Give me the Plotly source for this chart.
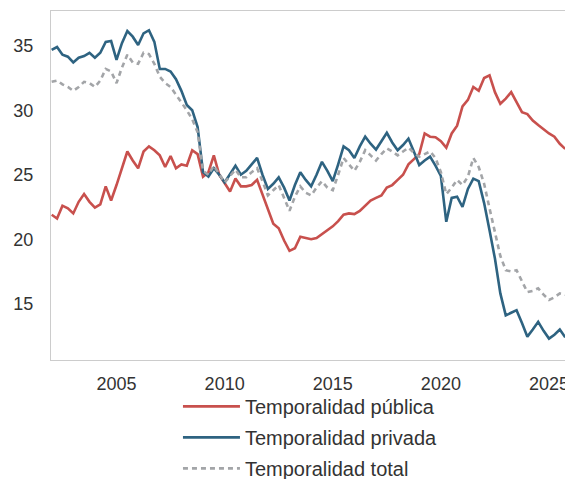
import plotly.graph_objects as go

# Quarterly periods 2002T1 .. 2025T4
years = [y for y in range(2002, 2026) for _ in range(4)]
quarters = [q for _ in range(2002, 2026) for q in range(1, 5)]
periods = [y + (q - 1) / 4 for y, q in zip(years, quarters)]

publica = [
    21.9, 21.6, 22.6, 22.4, 22.0, 22.9, 23.5, 22.9, 22.45, 22.7,
    24.1, 23.0, 24.2, 25.6, 26.8, 26.1, 25.5, 26.8, 27.2, 26.9,
    26.5, 25.6, 26.45, 25.5, 25.8, 25.7, 26.9, 26.6, 24.85, 25.2,
    26.5, 25.0, 24.3, 23.7, 24.7, 24.1, 24.1, 24.2, 24.6, 23.5,
    22.3, 21.2, 20.85, 19.9, 19.1, 19.3, 20.2, 20.1, 20.0, 20.1,
    20.4, 20.7, 21.0, 21.4, 21.9, 22.0, 21.95, 22.2, 22.6, 23.0,
    23.2, 23.4, 24.0, 24.2, 24.6, 25.0, 25.8, 26.2, 26.6, 28.2,
    27.95, 27.9, 27.6, 27.1, 28.2, 28.8, 30.3, 30.8, 31.8, 31.5,
    32.5, 32.7, 31.4, 30.5, 30.9, 31.4, 30.6, 29.85, 29.7, 29.2,
    28.85, 28.5, 28.2, 27.95, 27.4, 27.0,
]

privada = [
    34.67, 34.9, 34.3, 34.15, 33.7, 34.07, 34.2, 34.45, 34.07, 34.45,
    35.3, 35.36, 33.9, 35.2, 36.14, 35.7, 35.05, 35.96, 36.2, 35.3,
    33.2, 33.2, 33.0, 32.4, 31.5, 30.4, 30.0, 28.7, 25.2, 24.85,
    25.5, 25.0, 24.4, 25.0, 25.7, 25.0, 25.3, 25.8, 26.3, 25.0,
    23.9, 24.3, 24.8, 24.0, 23.0, 24.2, 25.2, 24.6, 24.1, 25.0,
    26.0, 25.3, 24.5, 25.8, 27.2, 26.9, 26.3, 27.2, 27.95, 27.4,
    26.95, 27.6, 28.25, 27.5, 26.9, 27.3, 27.8, 26.8, 25.75, 26.1,
    26.4, 25.7, 24.9, 21.35, 23.2, 23.3, 22.5, 23.9, 24.7, 24.5,
    22.8, 20.7, 18.5, 15.8, 14.1, 14.3, 14.5, 13.5, 12.45, 13.0,
    13.6, 12.9, 12.3, 12.6, 13.0, 12.4,
]

total = [
    32.2, 32.3, 32.0, 31.8, 31.5, 31.8, 32.2, 32.1, 31.8, 32.3,
    33.2, 33.0, 32.1, 33.3, 34.3, 33.7, 33.6, 34.45, 34.35, 33.6,
    32.6, 32.1, 31.8, 31.2, 30.6, 30.0, 29.3, 28.3, 25.3, 25.0,
    25.7, 25.1, 24.4, 24.9, 25.4, 24.8, 24.8, 25.2, 25.5, 24.5,
    23.4, 23.8, 24.2, 23.2, 22.2, 23.3, 24.1, 23.6, 23.4, 24.0,
    24.5, 24.0, 23.8, 25.0, 26.3, 25.8, 25.3, 26.0, 26.9, 26.5,
    26.1, 26.6, 27.05, 26.8, 26.5, 26.8, 27.1, 26.7, 26.4, 26.6,
    26.8, 26.3, 25.2, 23.5, 24.0, 24.6, 24.2, 24.85, 26.3, 25.6,
    24.3, 22.4, 20.6, 18.7, 17.6, 17.5, 17.6, 16.7, 15.9, 16.0,
    16.2, 15.7, 15.3, 15.5, 15.8, 15.7,
]

names = ["Temporalidad pública", "Temporalidad privada", "Temporalidad total"]
tick_years = [2005, 2010, 2015, 2020, 2025]
y_ticks = [15, 20, 25, 30, 35]

fig = go.Figure()
fig.add_trace(go.Scatter(x=periods, y=publica, mode="lines", name=names[0],
                         legendgroup="a",
                         line=dict(color="#C8504D", width=2.6)))
fig.add_trace(go.Scatter(x=periods, y=privada, mode="lines", name=names[1],
                         legendgroup="b",
                         line=dict(color="#2E6381", width=2.6)))
fig.add_trace(go.Scatter(x=periods, y=total, mode="lines", name=names[2],
                         legendgroup="c",
                         line=dict(color="#A3A5A8", width=2.6, dash="5px,4px")))

font = "Liberation Sans, Arial, sans-serif"
fig.update_layout(
    width=565, height=479,
    margin=dict(l=51, r=0, t=11, b=119, autoexpand=False),
    paper_bgcolor="white", plot_bgcolor="white",
    font=dict(family=font, color="#333333", size=18),
    showlegend=True,
    legend=dict(orientation="v", x=0.247, xanchor="left", y=-0.077, yanchor="top",
                font=dict(size=20, color="#333333"), tracegroupgap=2,
                itemwidth=57, bgcolor="rgba(0,0,0,0)"),
    xaxis=dict(range=[2001.97, 2025.74], tickmode="array", tickvals=tick_years,
               ticktext=[str(t) for t in tick_years], showgrid=False, zeroline=False,
               showline=True, linecolor="#CCCCCC", linewidth=1.2, mirror=True,
               automargin=False, ticklabeloverflow="allow",
               ticks="", ticklabelstandoff=7, tickfont=dict(size=18, color="#333333")),
    yaxis=dict(range=[10.64, 37.69], tickmode="array", tickvals=y_ticks,
               showgrid=False, zeroline=False, automargin=False,
               showline=True, linecolor="#CCCCCC", linewidth=1.2, mirror=True,
               ticks="", ticklabelstandoff=13, tickfont=dict(size=18, color="#333333")),
)

fig.write_html(
    "out.html",
    config={"displayModeBar": False},
    post_script="document.body.style.margin='0px';document.body.style.overflow='hidden';",
)
